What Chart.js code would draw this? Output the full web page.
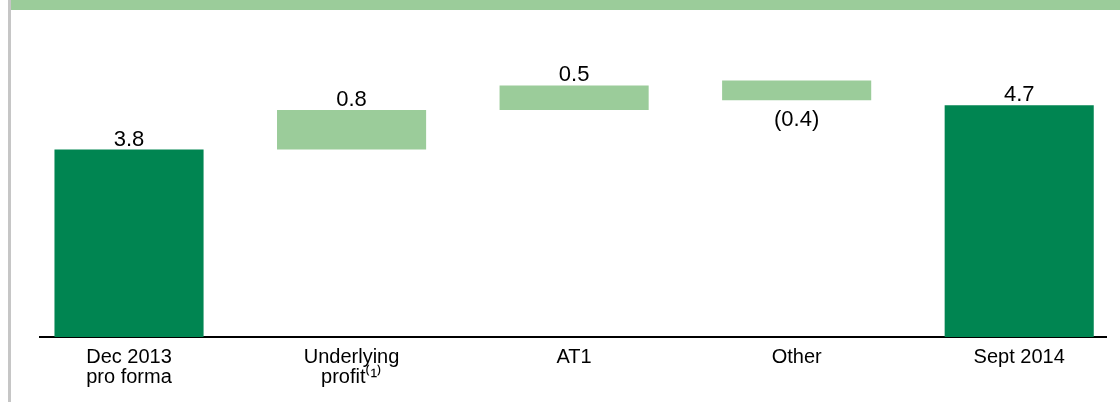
<!DOCTYPE html>
<html>
<head>
<meta charset="utf-8">
<script src="https://cdn.jsdelivr.net/npm/chart.js@4.4.0/dist/chart.umd.min.js"></script>
<style>
  body { margin: 0; background: #fff; }
  #wrap { position: relative; width: 1120px; height: 402px; overflow: hidden; }
  #vline { position: absolute; left: 8px; top: 0; width: 3px; height: 402px; background: #c6c6c6; }
  #banner { position: absolute; left: 11px; top: 0; width: 1109px; height: 10px; background: #9bcc9a; }
  #chart { position: absolute; left: 0; top: 0; }
</style>
</head>
<body>
<div id="wrap">
  <div id="vline"></div>
  <div id="banner"></div>
  <canvas id="chart" width="1120" height="402"></canvas>
</div>
<script>
// 카테고리 (여러줄 라벨)
var categories = [['Dec 2013', 'pro forma'], ['Underlying', 'profit⁽¹⁾'], ['AT1'], ['Other'], ['Sept 2014']];
// 막대 시작 / 끝 값
var barStart = [0, 3.8, 4.6, 5.2, 0];
var barEnd = [3.8, 4.6, 5.1, 4.8, 4.7];
var valueLabels = ['3.8', '0.8', '0.5', '(0.4)', '4.7'];
var barKind = ['total', 'step', 'step', 'step', 'total'];

var darkGreen = '#008551';
var lightGreen = '#9bcc9a';
var fontFamily = '"Liberation Sans", Arial, sans-serif';

// 막대 위/아래 값 표시
var valueLabelPlugin = {
  id: 'valueLabels',
  afterDatasetsDraw: function (chart) {
    var ctx = chart.ctx;
    var meta = chart.getDatasetMeta(0);
    ctx.save();
    ctx.font = '22px ' + fontFamily;
    ctx.fillStyle = '#000';
    ctx.textAlign = 'center';
    ctx.textBaseline = 'alphabetic';
    meta.data.forEach(function (bar, i) {
      var top = Math.min(bar.y, bar.base);
      var bottom = Math.max(bar.y, bar.base);
      if (barEnd[i] >= barStart[i])
        ctx.fillText(valueLabels[i], bar.x, top - 4);
      else
        ctx.fillText(valueLabels[i], bar.x, bottom + 26);
    });
    ctx.restore();
  }
};

var rows = categories.map(function (c, i) {
  return { x: i, y: [barStart[i], barEnd[i]] };
});

const chartConfig = {
  type: 'bar',
  data: {
    datasets: [{
      data: rows,
      backgroundColor: barKind.map(function (k) { return k === 'total' ? darkGreen : lightGreen; }),
      borderWidth: 0,
      barPercentage: 0.67,
      categoryPercentage: 1
    }]
  },
  options: {
    responsive: false,
    animation: false,
    layout: { padding: { left: 40, right: 14, top: 41, bottom: 0 } },
    plugins: {
      legend: { display: false },
      tooltip: { enabled: false }
    },
    scales: {
      x: {
        type: 'linear',
        min: -0.4,
        max: 4.39,
        offset: false,
        z: 1,
        grid: { display: false, drawTicks: false },
        border: { display: true, color: '#000', width: 2 },
        afterBuildTicks: function (scale) {
          scale.ticks = categories.map(function (c, i) { return { value: i }; });
        },
        afterFit: function (scale) {
          scale.height = 65;
        },
        ticks: {
          color: '#000',
          padding: 10,
          maxRotation: 0,
          autoSkip: false,
          font: { size: 20, family: fontFamily, lineHeight: 1.0 },
          callback: function (v) { return categories[v]; }
        }
      },
      y: {
        display: false,
        min: 0,
        max: 6
      }
    }
  },
  plugins: [valueLabelPlugin]
};

var myChart = new Chart(document.getElementById('chart'), chartConfig);
</script>
</body>
</html>
